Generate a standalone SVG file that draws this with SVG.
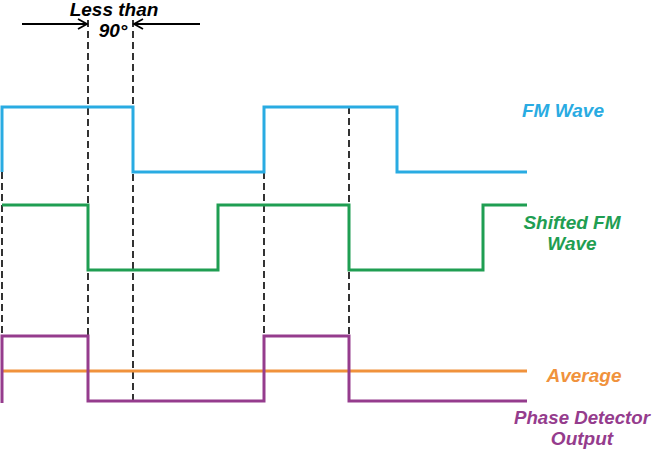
<svg xmlns="http://www.w3.org/2000/svg" width="653" height="450" viewBox="0 0 653 450">
<style>
.w{fill:none;stroke-width:3;stroke-linejoin:miter}
.d{stroke:#000;stroke-width:1.6;stroke-dasharray:7,4;fill:none}
.t{font-family:"Liberation Sans",Arial,sans-serif;font-size:19px;font-weight:bold;font-style:italic;text-anchor:middle}
</style>
<defs><marker id="a" markerWidth="12" markerHeight="12" refX="10" refY="6" orient="auto" markerUnits="userSpaceOnUse"><path d="M1,1 L10,6 L1,11" fill="none" stroke="#000" stroke-width="1.8"/></marker></defs>
<rect width="653" height="450" fill="#fff"/>
<g id="connectors">
<line class="d" x1="2" y1="172" x2="2" y2="336"/>
<line class="d" x1="88" y1="20" x2="88" y2="401"/>
<line class="d" x1="133" y1="20" x2="133" y2="401"/>
<line class="d" x1="264" y1="172" x2="264" y2="336"/>
<line class="d" x1="349" y1="107" x2="349" y2="336"/>
<line x1="22" y1="24" x2="87" y2="24" stroke="#000" stroke-width="2" marker-end="url(#a)"/>
<line x1="200" y1="24" x2="134" y2="24" stroke="#000" stroke-width="2" marker-end="url(#a)"/>
</g>
<g id="fm"><path class="w" stroke="#29abe2" d="M2,172 V107 H133 V172 H264 V107 H397 V172 H527"/><text class="t" x="563" y="117" fill="#29abe2">FM Wave</text></g>
<g id="shifted"><path class="w" stroke="#1f9e52" d="M2,205 H88 V270 H218 V205 H349 V270 H483 V205 H527"/><text class="t" fill="#1f9e52"><tspan x="572" y="229">Shifted FM</tspan><tspan x="572" y="250">Wave</tspan></text></g>
<g id="average"><line x1="2" y1="371" x2="527" y2="371" stroke="#f0923c" stroke-width="3"/><text class="t" x="584" y="382" fill="#f0923c">Average</text></g>
<g id="phase"><path class="w" stroke="#953c8d" d="M2,403 V336 H88 V401 H264 V336 H349 V401 H527"/><text class="t" x="582" y="424" fill="#953c8d" textLength="136" lengthAdjust="spacingAndGlyphs">Phase Detector</text><text class="t" x="582" y="445" fill="#953c8d">Output</text></g>
<g id="label"><text class="t" x="114" y="16">Less than</text><text class="t" x="113" y="37">90°</text></g>
</svg>
